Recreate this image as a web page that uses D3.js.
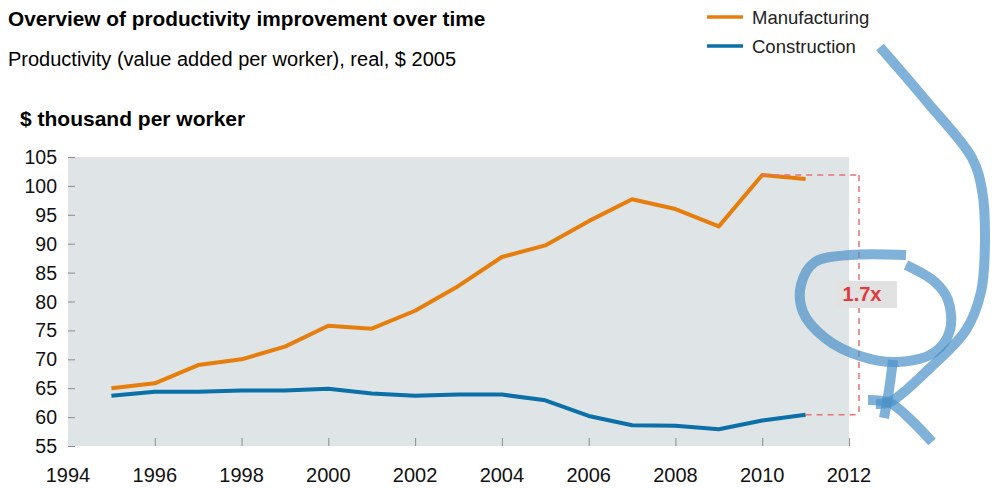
<!doctype HTML>
<html>
<head>
    <script src="https://d3js.org/d3.v7.min.js"></script>
    <style>
        body { margin: 0; background: #fff; }
        text { font-family: "Liberation Sans", Arial, Helvetica, sans-serif; }
    </style>
</head>
<body>
<script>
    // values ($ thousand per worker)
    var years = [1995, 1996, 1997, 1998, 1999, 2000, 2001, 2002, 2003, 2004, 2005, 2006, 2007, 2008, 2009, 2010, 2011];
    var manufacturing = [65.0, 65.85, 69.0, 70.0, 72.2, 75.8, 75.3, 78.4, 82.7, 87.7, 89.7, 93.9, 97.7, 96.0, 93.0, 101.9, 101.2];
    var construction = [63.7, 64.4, 64.4, 64.6, 64.6, 64.9, 64.1, 63.7, 63.9, 63.9, 62.9, 60.2, 58.6, 58.5, 57.9, 59.4, 60.4];
    var xTicks = [1994, 1996, 1998, 2000, 2002, 2004, 2006, 2008, 2010, 2012];
    var yTicks = [55, 60, 65, 70, 75, 80, 85, 90, 95, 100, 105];
    var seriesNames = ["Manufacturing", "Construction"];
    var seriesColors = ["#e57e0c", "#0b6fa8"];

    var canvasWidth = 997;
    var canvasHeight = 488;

    var svg = d3.select("body").append("svg")
        .attr("width", canvasWidth)
        .attr("height", canvasHeight);

    var plotLeft = 68, plotRight = 849, plotTop = 157, plotBottom = 446;

    var xScale = d3.scaleLinear().domain([1994, 2012]).range([plotLeft, plotRight]);
    var yScale = d3.scaleLinear().domain([55, 105]).range([plotBottom, plotTop]);

    // titles
    svg.append("text").attr("x", 8).attr("y", 26)
        .attr("font-size", "20.8px").attr("font-weight", "bold")
        .text("Overview of productivity improvement over time");
    svg.append("text").attr("x", 8).attr("y", 66)
        .attr("font-size", "20px")
        .text("Productivity (value added per worker), real, $ 2005");
    svg.append("text").attr("x", 20).attr("y", 126)
        .attr("font-size", "21px").attr("font-weight", "bold")
        .text("$ thousand per worker");

    // legend
    var legend = svg.append("g");
    seriesNames.forEach(function(name, i) {
        var ly = 17 + i * 29;
        legend.append("line")
            .attr("x1", 707).attr("x2", 743).attr("y1", ly).attr("y2", ly)
            .attr("stroke", seriesColors[i]).attr("stroke-width", 3.5);
        legend.append("text").attr("x", 752).attr("y", ly + 7)
            .attr("font-size", "18.5px").attr("fill", "#222")
            .text(name);
    });

    // plot background
    svg.append("rect")
        .attr("x", plotLeft).attr("y", plotTop)
        .attr("width", plotRight - plotLeft).attr("height", plotBottom - plotTop)
        .attr("fill", "#dfe4e6");

    // y axis: labels left, small ticks inside the plot
    var yAxis = svg.append("g")
        .attr("transform", "translate(" + plotLeft + ",0)")
        .call(d3.axisRight(yScale).tickValues(yTicks).tickSize(7).tickFormat(""));
    yAxis.select(".domain").remove();
    yAxis.selectAll("line").attr("stroke", "#8c8c8c");
    svg.append("g").selectAll("text")
        .data(yTicks).enter().append("text")
        .attr("x", 57)
        .attr("y", function(d) { return yScale(d); })
        .attr("dy", "0.36em")
        .attr("text-anchor", "end")
        .attr("font-size", "19.5px")
        .attr("fill", "#111")
        .text(function(d) { return d; });

    // x axis: ticks pointing up inside plot, labels below
    var xAxis = svg.append("g")
        .attr("transform", "translate(0," + plotBottom + ")")
        .call(d3.axisTop(xScale).tickValues(xTicks.slice(1)).tickSize(8).tickFormat(""));
    xAxis.select(".domain").remove();
    xAxis.selectAll("line").attr("stroke", "#8c8c8c");
    svg.append("g").selectAll("text")
        .data(xTicks).enter().append("text")
        .attr("x", function(d) { return xScale(d); })
        .attr("y", 482)
        .attr("text-anchor", "middle")
        .attr("font-size", "20px")
        .attr("fill", "#111")
        .text(function(d) { return d; });

    // series lines
    var line = d3.line()
        .x(function(d) { return xScale(d[0]); })
        .y(function(d) { return yScale(d[1]); });
    [manufacturing, construction].forEach(function(vals, i) {
        svg.append("path")
            .datum(years.map(function(y, j) { return [y, vals[j]]; }))
            .attr("fill", "none")
            .attr("stroke", seriesColors[i])
            .attr("stroke-width", 4)
            .attr("stroke-linejoin", "round")
            .attr("d", line);
    });

    // ratio annotation
    var peakIdx = manufacturing.indexOf(d3.max(manufacturing));
    var lastIdx = years.length - 1;
    var topY = yScale(manufacturing[peakIdx]);
    var botY = yScale(construction[lastIdx]);
    var bx = 859;
    var dash = svg.append("g")
        .attr("stroke", "#e57373").attr("stroke-width", 1.5)
        .attr("stroke-dasharray", "6,5").attr("fill", "none");
    dash.append("line").attr("x1", xScale(years[peakIdx])).attr("x2", bx).attr("y1", topY).attr("y2", topY);
    dash.append("line").attr("x1", xScale(years[lastIdx])).attr("x2", bx).attr("y1", botY).attr("y2", botY);
    dash.append("line").attr("x1", bx).attr("x2", bx).attr("y1", topY).attr("y2", botY);

    var ratio = manufacturing[peakIdx] / construction[lastIdx];
    svg.append("rect")
        .attr("x", 836).attr("y", 281).attr("width", 61).attr("height", 27)
        .attr("fill", "#e2e2e2");
    svg.append("text")
        .attr("x", 862).attr("y", 301)
        .attr("text-anchor", "middle")
        .attr("font-size", "20px").attr("font-weight", "bold")
        .attr("fill", "#e0393e")
        .text(d3.format(".1f")(ratio) + "x");

    // hand-drawn pen marks over the chart
    var pen = d3.line().curve(d3.curveCatmullRom.alpha(0.5));
    var strokes = [
        [[880, 47], [928, 103], [972, 158], [982, 190], [985, 240], [981, 292], [966, 330], [930, 368], [890, 402], [876, 404]],
        [[906, 255], [850, 255], [815, 262], [801, 285], [803, 312], [825, 338], [860, 356], [898, 362], [935, 352], [950, 330], [948, 300], [935, 282], [906, 265]],
        [[893, 360], [889, 390], [884, 418]],
        [[868, 400], [890, 403], [912, 421], [932, 442]]
    ];
    svg.append("g").selectAll("path")
        .data(strokes).enter().append("path")
        .attr("d", pen)
        .attr("fill", "none")
        .attr("stroke", "#4a90c8")
        .attr("stroke-opacity", 0.7)
        .attr("stroke-width", 10)
        .attr("stroke-linejoin", "round");
</script>
</body>
</html>
